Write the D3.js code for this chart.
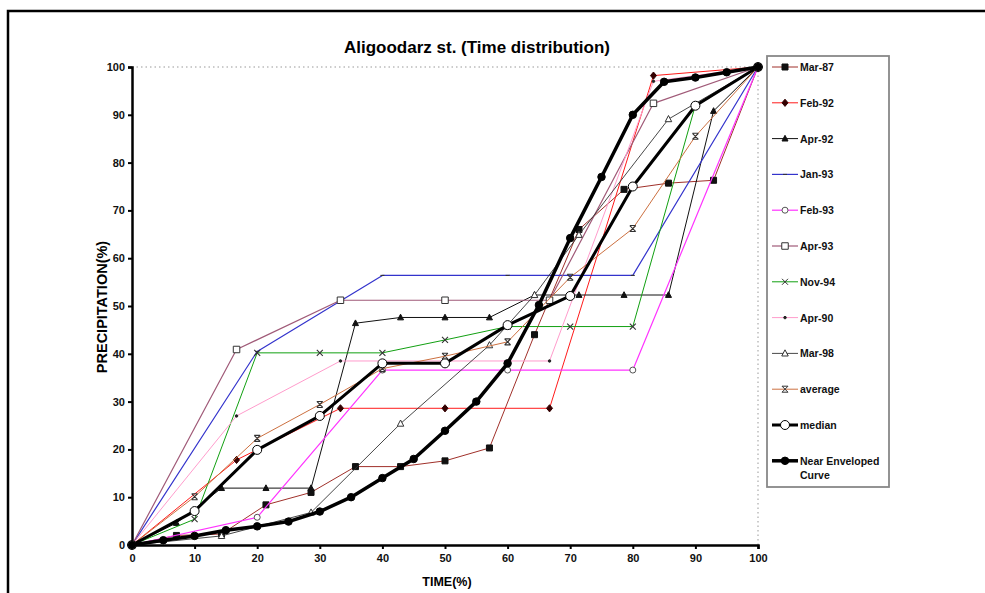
<!DOCTYPE html>
<html lang="en">
  <head>
    <meta charset="UTF-8" />
    <title>Aligoodarz st. (Time distribution)</title>
    <style>
      body {
        margin: 0;
        background: #fff;
      }
      #chart {
        width: 985px;
        height: 593px;
        position: absolute;
      }
      text {
        font-family: "Liberation Sans", Arial, sans-serif;
        font-weight: bold;
      }
    </style>
  </head>
  <body>
    <div id="chart"></div>
    <script src="https://cdn.jsdelivr.net/npm/d3@7"></script>
    <script>
      // values: [time %, precipitation %]
      var mar87 = [[0, 0], [7.1, 2], [14.3, 2.3], [21.4, 8.4], [28.6, 11], [35.7, 16.4], [42.9, 16.4], [50, 17.6], [57.1, 20.3], [64.3, 44], [71.4, 66], [78.6, 74.4], [85.7, 75.7], [92.9, 76.3], [100, 100]];
      var feb92 = [[0, 0], [16.7, 17.8], [33.3, 28.6], [50, 28.6], [66.7, 28.6], [83.3, 98.2], [100, 100]];
      var apr92 = [[0, 0], [7.1, 4.6], [14.3, 11.9], [21.4, 11.9], [28.6, 11.9], [35.7, 46.4], [42.9, 47.6], [50, 47.6], [57.1, 47.6], [64.3, 52.3], [71.4, 52.3], [78.6, 52.3], [85.7, 52.3], [92.9, 90.8], [100, 100]];
      var jan93 = [[0, 0], [20, 40.5], [40, 56.4], [60, 56.4], [80, 56.4], [100, 100]];
      var feb93 = [[0, 0], [20, 5.8], [40, 36.6], [60, 36.6], [80, 36.6], [100, 100]];
      var apr93 = [[0, 0], [16.7, 40.9], [33.3, 51.2], [50, 51.2], [66.7, 51.2], [83.3, 92.4], [100, 100]];
      var nov94 = [[0, 0], [10, 5.4], [20, 40.2], [30, 40.2], [40, 40.2], [50, 42.9], [60, 45.7], [70, 45.7], [80, 45.7], [90, 92], [100, 100]];
      var apr90 = [[0, 0], [16.7, 27], [33.3, 38.5], [50, 38.5], [66.7, 38.5], [83.3, 97], [100, 100]];
      var mar98 = [[0, 0], [14.3, 1.9], [28.6, 6.8], [42.9, 25.4], [57.1, 41.8], [64.3, 52.3], [71.4, 64.9], [85.7, 89.1], [100, 100]];
      var average = [[0, 0], [10, 10.1], [20, 22.3], [30, 29.4], [40, 36.9], [50, 39.5], [60, 42.5], [70, 56], [80, 66.2], [90, 85.5], [100, 100]];
      var median = [[0, 0], [10, 7.1], [20, 19.9], [30, 27], [40, 38], [50, 38], [60, 46], [70, 52.1], [80, 75], [90, 91.9], [100, 100]];
      var envelope = [[0, 0], [5, 1], [10, 1.9], [15, 3.1], [20, 3.9], [25, 4.9], [30, 7], [35, 10], [40, 14], [45, 18], [50, 23.9], [55, 30], [60, 38], [65, 50.2], [70, 64.2], [75, 77], [80, 90], [85, 96.9], [90, 97.8], [95, 98.9], [100, 100]];

      var seriesNames = ["Mar-87", "Feb-92", "Apr-92", "Jan-93", "Feb-93", "Apr-93", "Nov-94", "Apr-90", "Mar-98", "average", "median", "Near Enveloped Curve"];
      var xTicks = [0, 10, 20, 30, 40, 50, 60, 70, 80, 90, 100];
      var yTicks = [0, 10, 20, 30, 40, 50, 60, 70, 80, 90, 100];

      var styles = [
        { data: mar87, line: "#a0302a", w: 1, mk: "square", size: 6, fill: "#111", stroke: "#111" },
        { data: feb92, line: "#ff1a1a", w: 1, mk: "diamond", size: 6, fill: "#300", stroke: "#300" },
        { data: apr92, line: "#111", w: 1, mk: "triangle", size: 6, fill: "#111", stroke: "#111" },
        { data: jan93, line: "#3333cc", w: 1.2, mk: "dash", size: 4, fill: "none", stroke: "#333" },
        { data: feb93, line: "#ff33ff", w: 1.2, mk: "circle", size: 6, fill: "#fff", stroke: "#555" },
        { data: apr93, line: "#a05a78", w: 1.2, mk: "square", size: 6.5, fill: "#fff", stroke: "#333" },
        { data: nov94, line: "#11a011", w: 1, mk: "x", size: 6, fill: "none", stroke: "#333" },
        { data: apr90, line: "#ff9ccc", w: 1, mk: "dot", size: 2.5, fill: "#222", stroke: "#222" },
        { data: mar98, line: "#333", w: 0.9, mk: "triangle", size: 6.5, fill: "#fff", stroke: "#333" },
        { data: average, line: "#cc7040", w: 1, mk: "star", size: 6, fill: "none", stroke: "#333" },
        { data: median, line: "#000", w: 3, mk: "circle", size: 9, fill: "#fff", stroke: "#000" },
        { data: envelope, line: "#000", w: 3.5, mk: "circle", size: 7.5, fill: "#000", stroke: "#000" }
      ];

      var W = 985, H = 593;
      var plotL = 132, plotR = 758, plotT = 67, plotB = 545;

      var svg = d3.select("#chart").append("svg").attr("width", W).attr("height", H);

      // outer frame
      svg.append("path").attr("d", "M8,593 V11 H985").attr("fill", "none").attr("stroke", "#000").attr("stroke-width", 2.5);

      var x = d3.scaleLinear().domain([0, 100]).range([plotL, plotR]);
      var y = d3.scaleLinear().domain([0, 100]).range([plotB, plotT]);

      // dotted plot border
      svg.append("path")
        .attr("d", "M" + x(0) + "," + y(100) + " H" + x(100) + " V" + y(0))
        .attr("fill", "none").attr("stroke", "#999").attr("stroke-width", 1).attr("stroke-dasharray", "1.5,3");

      var yAxis = svg.append("g").attr("transform", "translate(" + plotL + ",0)")
        .call(d3.axisLeft(y).tickValues(yTicks).tickSize(4).tickPadding(3));
      var xAxis = svg.append("g").attr("transform", "translate(0," + plotB + ")")
        .call(d3.axisBottom(x).tickValues(xTicks).tickSize(4).tickPadding(5));

      [xAxis, yAxis].forEach(function (a) {
        a.select(".domain").attr("stroke", "#000").attr("stroke-width", 2.5);
        a.selectAll(".tick line").attr("stroke", "#000").attr("stroke-width", 2);
        a.selectAll("text").attr("fill", "#111").attr("font-size", 11).attr("font-family", "Liberation Sans, Arial").attr("font-weight", "bold");
      });

      svg.append("text").attr("x", 477).attr("y", 53).attr("text-anchor", "middle").attr("font-size", 17).text("Aligoodarz st. (Time distribution)");
      svg.append("text").attr("x", 447).attr("y", 586).attr("text-anchor", "middle").attr("font-size", 12.5).text("TIME(%)");
      svg.append("text").attr("transform", "translate(107,307) rotate(-90)").attr("text-anchor", "middle").attr("font-size", 14.5).text("PRECIPITATION(%)");

      function markerPath(mk, s) {
        var h = s / 2;
        if (mk === "square") return d3.symbol(d3.symbolSquare, s * s)();
        if (mk === "diamond") return "M0," + (-h * 1.2) + "L" + h + ",0L0," + (h * 1.2) + "L" + (-h) + ",0Z";
        if (mk === "triangle") return "M0," + (-h * 1.1) + "L" + h + "," + (h * 0.8) + "L" + (-h) + "," + (h * 0.8) + "Z";
        if (mk === "circle" || mk === "dot") return d3.symbol(d3.symbolCircle, Math.PI * h * h)();
        if (mk === "dash") return "M" + (-h) + ",0H" + h;
        if (mk === "x") return "M" + (-h) + "," + (-h) + "L" + h + "," + h + "M" + h + "," + (-h) + "L" + (-h) + "," + h;
        if (mk === "star") return "M" + (-h) + "," + (-h) + "L" + h + "," + h + "M" + h + "," + (-h) + "L" + (-h) + "," + h + "M" + (-h) + "," + (-h) + "H" + h + "M" + (-h) + "," + h + "H" + h;
        return "";
      }

      var line = d3.line().x(function (d) { return x(d[0]); }).y(function (d) { return y(d[1]); });

      styles.forEach(function (s) {
        var g = svg.append("g");
        g.append("path").attr("d", line(s.data)).attr("fill", "none").attr("stroke", s.line).attr("stroke-width", s.w).attr("stroke-linejoin", "round");
        g.selectAll(".m").data(s.data).enter().append("path")
          .attr("transform", function (d) { return "translate(" + x(d[0]) + "," + y(d[1]) + ")"; })
          .attr("d", markerPath(s.mk, s.size))
          .attr("fill", s.fill)
          .attr("stroke", s.stroke)
          .attr("stroke-width", s.mk === "x" || s.mk === "star" || s.mk === "dash" ? 1.1 : 1);
      });

      // legend
      var lg = svg.append("g");
      lg.append("rect").attr("x", 767).attr("y", 56).attr("width", 122).attr("height", 431)
        .attr("fill", "#fff").attr("stroke", "#888").attr("stroke-width", 1.8);
      styles.forEach(function (s, i) {
        var ly = 67 + i * 35.8;
        lg.append("line").attr("x1", 772).attr("x2", 798).attr("y1", ly).attr("y2", ly)
          .attr("stroke", s.line).attr("stroke-width", s.w);
        lg.append("path").attr("transform", "translate(785," + ly + ")").attr("d", markerPath(s.mk, s.size))
          .attr("fill", s.fill).attr("stroke", s.stroke).attr("stroke-width", 1);
        var words = seriesNames[i] === "Near Enveloped Curve" ? ["Near Enveloped", "Curve"] : [seriesNames[i]];
        words.forEach(function (t, j) {
          lg.append("text").attr("x", 800).attr("y", ly + 4 + j * 14).attr("font-size", 10.5).attr("fill", "#111").text(t);
        });
      });
    </script>
  </body>
</html>
